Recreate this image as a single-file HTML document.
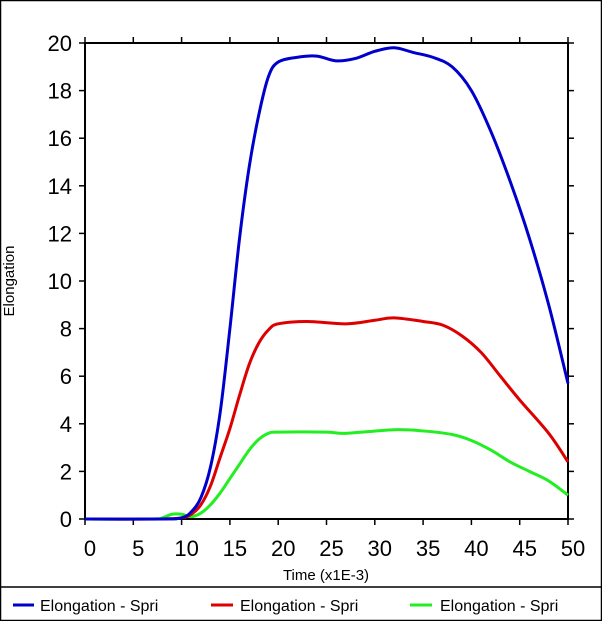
<!DOCTYPE html>
<html><head><meta charset="utf-8"><style>
html,body{margin:0;padding:0;background:#fff;}
svg{display:block;font-family:"Liberation Sans",Arial,sans-serif;}
</style></head><body>
<svg id="chart" width="602" height="621" viewBox="0 0 602 621">
<rect x="0.5" y="0.5" width="601" height="620" fill="#fff" stroke="#000" stroke-width="1.5"/>
<g id="axes"></g>
<g id="series"></g>
<text x="14" y="281" font-size="15" text-anchor="middle" transform="rotate(-90 14 281)">Elongation</text>
<text x="326" y="580" font-size="15" text-anchor="middle">Time (x1E-3)</text>
<line x1="0" y1="587" x2="602" y2="587" stroke="#000" stroke-width="1.5"/>
<g><line x1="13" y1="605" x2="34" y2="605" stroke="#0000cc" stroke-width="3"/><text x="40" y="611" font-size="16">Elongation - Spri</text></g>
<g><line x1="211" y1="605" x2="233" y2="605" stroke="#dd0000" stroke-width="3"/><text x="240" y="611" font-size="16">Elongation - Spri</text></g>
<g><line x1="410" y1="605" x2="432" y2="605" stroke="#22ee22" stroke-width="3"/><text x="440" y="611" font-size="16">Elongation - Spri</text></g>
</svg>
<script>
const xTicks=[0,5,10,15,20,25,30,35,40,45,50];
const yTicks=[0,2,4,6,8,10,12,14,16,18,20];
const blueT=[0,8,10,11,12,13,14,15,16,17,18,19,20,22,24,26,28,30,32,34,36,38,40,42,44,46,48,50];
const blueV=[0,0,0.05,0.3,0.9,2.2,4.5,8,11.8,14.8,17,18.6,19.2,19.4,19.45,19.25,19.35,19.65,19.8,19.6,19.4,19,18,16.3,14.2,11.8,9,5.7];
const redT=[0,8,10,11,12,13,14,15,16,17,18,19,20,23,27,30,32,35,37,39,41,43,45,48,50];
const redV=[0,0,0.05,0.2,0.6,1.4,2.6,3.8,5.2,6.5,7.4,7.95,8.2,8.3,8.2,8.35,8.45,8.3,8.15,7.7,7,6,5,3.6,2.4];
const greenT=[0,7,8,9,10,11,12,13,14,15,16,17,18,19,20,25,27,32,35,38,40,42,44,46,48,50];
const greenV=[0,0,0.05,0.2,0.2,0.1,0.25,0.6,1.1,1.7,2.3,2.9,3.35,3.6,3.65,3.65,3.6,3.75,3.7,3.55,3.3,2.9,2.4,2.0,1.6,1.0];
const X0=85,X1=568,Y0=519,Y1=43;
const xs=t=>X0+(t-0)/(50-0)*(X1-X0);
const ys=v=>Y0-(v-0)/(20-0)*(Y0-Y1);
const NS="http://www.w3.org/2000/svg";
const axes=document.getElementById('axes'),ser=document.getElementById('series');
function mk(tag,attrs,parent){const e=document.createElementNS(NS,tag);for(const k in attrs)e.setAttribute(k,attrs[k]);parent.appendChild(e);return e;}
const box=mk('rect',{x:X0,y:Y1,width:X1-X0,height:Y0-Y1,fill:'none',stroke:'#000','stroke-width':2},axes);


xTicks.forEach(t=>{
 const l=mk('line',{x1:xs(t),x2:xs(t),y1:Y0,y2:Y0+6,stroke:'#000','stroke-width':1.5},axes);
 
 
 const l2=mk('line',{x1:xs(t),x2:xs(t),y1:Y1,y2:Y1-6,stroke:'#000','stroke-width':1.5},axes);
 
 
 const tx=mk('text',{x:xs(t)+5,y:556,'font-size':22,'text-anchor':'middle'},axes);tx.textContent=t;
 
 
});
yTicks.forEach(v=>{
 const l=mk('line',{x1:X0-6,x2:X0,y1:ys(v),y2:ys(v),stroke:'#000','stroke-width':1.5},axes);
 
 
 const l2=mk('line',{x1:X1,x2:X1+6,y1:ys(v),y2:ys(v),stroke:'#000','stroke-width':1.5},axes);
 
 
 const tx=mk('text',{x:72,y:ys(v)+8,'font-size':22,'text-anchor':'end'},axes);tx.textContent=v;
 
 
});
function path(T,V){
 const p=T.map((t,i)=>[xs(t),ys(V[i])]);
 let d='M'+p[0][0]+','+p[0][1];
 for(let i=0;i<p.length-1;i++){
  const p0=p[i-1]||p[i],p1=p[i],p2=p[i+1],p3=p[i+2]||p2;
  const c1=[p1[0]+(p2[0]-p0[0])/6,p1[1]+(p2[1]-p0[1])/6];
  const c2=[p2[0]-(p3[0]-p1[0])/6,p2[1]-(p3[1]-p1[1])/6];
  d+=' C'+c1+' '+c2+' '+p2;
 }
 return d;
}
[[greenT,greenV,'#22ee22','series-green'],[redT,redV,'#dd0000','series-red'],[blueT,blueV,'#0000cc','series-blue']].forEach(s=>{
 const e=mk('path',{d:path(s[0],s[1]),fill:'none',stroke:s[2],'stroke-width':3,'stroke-linejoin':'round'},ser);
 
 
});
</script>
</body></html>
